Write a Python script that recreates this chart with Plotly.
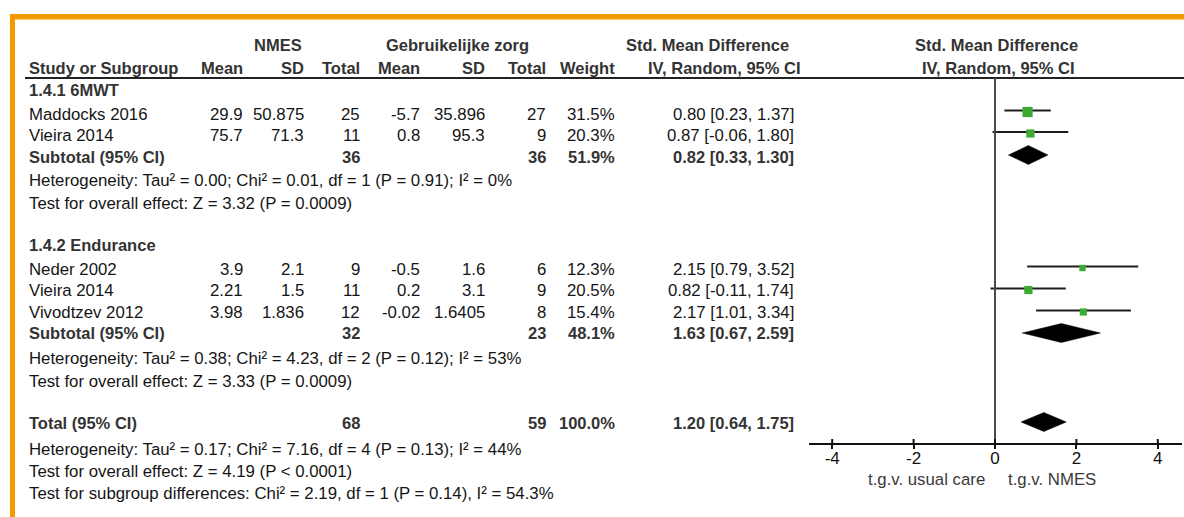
import plotly.graph_objects as go

W, H = 1184, 517

# ---- data -------------------------------------------------------------
group1_title = "1.4.1 6MWT"
group1_studies = ["Maddocks 2016", "Vieira 2014"]
group1_nmes_mean = ["29.9", "75.7"]
group1_nmes_sd = ["50.875", "71.3"]
group1_nmes_total = [25, 11]
group1_care_mean = ["-5.7", "0.8"]
group1_care_sd = ["35.896", "95.3"]
group1_care_total = [27, 9]
group1_weight = [31.5, 20.3]
group1_smd = [0.80, 0.87]
group1_lo = [0.23, -0.06]
group1_hi = [1.37, 1.80]
group1_sub = dict(n1=36, n2=36, weight=51.9, smd=0.82, lo=0.33, hi=1.30)
group1_het = "Heterogeneity: Tau² = 0.00; Chi² = 0.01, df = 1 (P = 0.91); I² = 0%"
group1_test = "Test for overall effect: Z = 3.32 (P = 0.0009)"

group2_title = "1.4.2 Endurance"
group2_studies = ["Neder 2002", "Vieira 2014", "Vivodtzev 2012"]
group2_nmes_mean = ["3.9", "2.21", "3.98"]
group2_nmes_sd = ["2.1", "1.5", "1.836"]
group2_nmes_total = [9, 11, 12]
group2_care_mean = ["-0.5", "0.2", "-0.02"]
group2_care_sd = ["1.6", "3.1", "1.6405"]
group2_care_total = [6, 9, 8]
group2_weight = [12.3, 20.5, 15.4]
group2_smd = [2.15, 0.82, 2.17]
group2_lo = [0.79, -0.11, 1.01]
group2_hi = [3.52, 1.74, 3.34]
group2_sub = dict(n1=32, n2=23, weight=48.1, smd=1.63, lo=0.67, hi=2.59)
group2_het = "Heterogeneity: Tau² = 0.38; Chi² = 4.23, df = 2 (P = 0.12); I² = 53%"
group2_test = "Test for overall effect: Z = 3.33 (P = 0.0009)"

total = dict(n1=68, n2=59, weight=100.0, smd=1.20, lo=0.64, hi=1.75)
total_het = "Heterogeneity: Tau² = 0.17; Chi² = 7.16, df = 4 (P = 0.13); I² = 44%"
total_test = "Test for overall effect: Z = 4.19 (P < 0.0001)"
subgroup_test = "Test for subgroup differences: Chi² = 2.19, df = 1 (P = 0.14), I² = 54.3%"

tick_vals = [-4, -2, 0, 2, 4]
tick_text = ["-4", "-2", "0", "2", "4"]
favours_left = "t.g.v. usual care"
favours_right = "t.g.v. NMES"

# ---- layout constants (pixels) ---------------------------------------
FONT = "Liberation Sans, Arial, sans-serif"
FS = 16.8
FS_BOLD = 16.5
TXT = "#151515"
BOLD = "#333333"
ORANGE = "#F39A00"
GREEN = "#3DAA33"

# column right edges
C_STUDY = 27
C_M1, C_SD1, C_N1 = 245, 306, 362
C_M2, C_SD2, C_N2 = 422, 487, 548
C_W, C_CI = 617, 796

# forest axis geometry
AX_Y = 443
X0_PX = 995
PX_PER_UNIT = 40.7
AX_LEFT, AX_RIGHT = 809, 1182


def px(x):
    return x / W


def py(y):
    return 1 - y / H


annotations = []


def text(x, y, s, anchor="left", bold=False, color=None):
    annotations.append(dict(
        x=px(x), y=py(y), xref="paper", yref="paper",
        text=f"<b>{s}</b>" if bold else s,
        showarrow=False, xanchor=anchor, yanchor="middle",
        font=dict(family=FONT, size=FS_BOLD if bold else FS,
                  color=color or (BOLD if bold else TXT)),
    ))


def ci_str(m, lo, hi):
    return f"{m:.2f} [{lo:.2f}, {hi:.2f}]"


# header
text((253 + 302) / 2, 45, "NMES", "center", bold=True)
text((385 + 530) / 2, 45, "Gebruikelijke zorg", "center", bold=True)
text(707, 45, "Std. Mean Difference", "center", bold=True)
text(996, 45, "Std. Mean Difference", "center", bold=True)
text(C_STUDY, 68, "Study or Subgroup", bold=True)
for x, s in [(C_M1, "Mean"), (C_SD1, "SD"), (C_N1, "Total"), (C_M2, "Mean"),
             (C_SD2, "SD"), (C_N2, "Total"), (C_W, "Weight")]:
    text(x, 68, s, "right", bold=True)
text(725, 68, "IV, Random, 95% CI", "center", bold=True)
text(998, 68, "IV, Random, 95% CI", "center", bold=True)


def study_rows(ys, names, m1, sd1, n1, m2, sd2, n2, w, smd, lo, hi):
    for i, y in enumerate(ys):
        text(C_STUDY, y, names[i])
        text(C_M1, y, m1[i], "right")
        text(C_SD1, y, sd1[i], "right")
        text(C_N1, y, str(n1[i]), "right")
        text(C_M2, y, m2[i], "right")
        text(C_SD2, y, sd2[i], "right")
        text(C_N2, y, str(n2[i]), "right")
        text(C_W, y, f"{w[i]:.1f}%", "right")
        text(C_CI, y, ci_str(smd[i], lo[i], hi[i]), "right")


def summary_row(y, label, d):
    text(C_STUDY, y, label, bold=True)
    text(C_N1, y, str(d["n1"]), "right", bold=True)
    text(C_N2, y, str(d["n2"]), "right", bold=True)
    text(C_W, y, f"{d['weight']:.1f}%", "right", bold=True)
    text(C_CI, y, ci_str(d["smd"], d["lo"], d["hi"]), "right", bold=True)


# group 1 text
text(C_STUDY, 90.5, group1_title, bold=True)
study_rows([114.5, 135.5], group1_studies, group1_nmes_mean, group1_nmes_sd,
           group1_nmes_total, group1_care_mean, group1_care_sd, group1_care_total,
           group1_weight, group1_smd, group1_lo, group1_hi)
summary_row(157.5, "Subtotal (95% CI)", group1_sub)
text(C_STUDY, 181, group1_het)
text(C_STUDY, 203, group1_test)

# group 2 text
text(C_STUDY, 245, group2_title, bold=True)
study_rows([269, 290.5, 312], group2_studies, group2_nmes_mean, group2_nmes_sd,
           group2_nmes_total, group2_care_mean, group2_care_sd, group2_care_total,
           group2_weight, group2_smd, group2_lo, group2_hi)
summary_row(332.5, "Subtotal (95% CI)", group2_sub)
text(C_STUDY, 358, group2_het)
text(C_STUDY, 381, group2_test)

# overall
summary_row(423, "Total (95% CI)", total)
text(C_STUDY, 449.5, total_het)
text(C_STUDY, 471, total_test)
text(C_STUDY, 493, subgroup_test)

# favours labels under the axis
text(X0_PX - 8, 479, favours_left, "right", color="#3a3a3a")
text(X0_PX + 11, 479, favours_right, "left", color="#3a3a3a")

# ---- forest plot traces ----------------------------------------------
fig = go.Figure()

study_y = [112, 133.5, 268, 290, 312]
all_smd = group1_smd + group2_smd
all_lo = group1_lo + group2_lo
all_hi = group1_hi + group2_hi
all_w = group1_weight + group2_weight

for y, lo, hi in zip(study_y, all_lo, all_hi):
    fig.add_trace(go.Scatter(
        x=[lo, hi], y=[y - 1.5, y - 1.5], mode="lines",
        line=dict(color="#1e1e1e", width=2), hoverinfo="skip", showlegend=False,
    ))

fig.add_trace(go.Scatter(
    x=all_smd, y=study_y, mode="markers",
    marker=dict(symbol="square", color=GREEN, opacity=1, line=dict(width=0),
                size=[1.82 * w ** 0.5 for w in all_w]),
    hoverinfo="skip", showlegend=False,
))

for y, d in [(155, group1_sub), (333, group2_sub), (422, total)]:
    h = 9.5
    fig.add_trace(go.Scatter(
        x=[d["lo"], d["smd"], d["hi"], d["smd"], d["lo"]],
        y=[y, y - h, y, y + h, y],
        mode="lines", fill="toself", fillcolor="#000000",
        line=dict(color="#000000", width=0.5), hoverinfo="skip", showlegend=False,
    ))

shapes = [
    # orange frame
    dict(type="rect", xref="paper", yref="paper", x0=px(10), x1=px(15),
         y0=py(H), y1=py(14), fillcolor=ORANGE, line=dict(width=0), layer="below"),
    dict(type="rect", xref="paper", yref="paper", x0=px(10), x1=1,
         y0=py(19.5), y1=py(14), fillcolor=ORANGE, line=dict(width=0), layer="below"),
    # header rule
    dict(type="line", xref="paper", yref="paper", x0=px(25), x1=1,
         y0=py(78), y1=py(78), line=dict(color="#222222", width=2)),
    # line of no effect
    dict(type="line", xref="x", yref="y", x0=0, x1=0, y0=78, y1=AX_Y,
         line=dict(color="#4a4a4a", width=2)),
]
# upper half of the crossing tick marks
for v in tick_vals:
    shapes.append(dict(type="line", xref="x", yref="y", x0=v, x1=v,
                       y0=AX_Y - 4, y1=AX_Y, line=dict(color="#111111", width=2)))

fig.update_layout(
    width=W, height=H,
    margin=dict(l=0, r=0, t=0, b=0),
    paper_bgcolor="white", plot_bgcolor="white",
    showlegend=False,
    annotations=annotations,
    shapes=shapes,
    xaxis=dict(
        domain=[px(AX_LEFT), px(AX_RIGHT)],
        range=[(AX_LEFT - X0_PX) / PX_PER_UNIT, (AX_RIGHT - X0_PX) / PX_PER_UNIT],
        tickvals=tick_vals, ticktext=tick_text,
        ticks="outside", ticklen=4, tickwidth=2, tickcolor="#111111",
        ticklabelstandoff=-5,
        showline=True, linecolor="#111111", linewidth=2,
        showgrid=False, zeroline=False, fixedrange=True,
        tickfont=dict(family=FONT, size=17, color="#111111"),
    ),
    yaxis=dict(
        domain=[py(AX_Y), 1], range=[AX_Y, 0], visible=False, fixedrange=True,
    ),
)

fig.write_html("out.html")
